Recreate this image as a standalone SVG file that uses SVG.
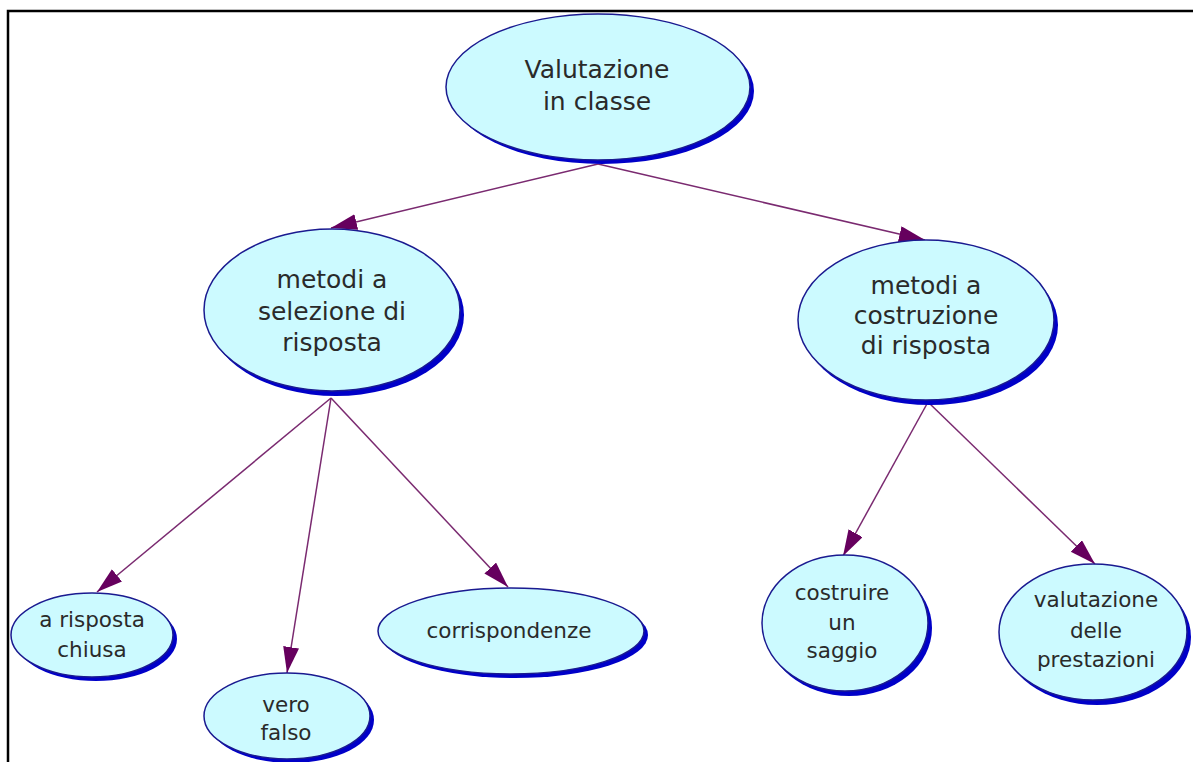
<svg xmlns="http://www.w3.org/2000/svg" width="1193" height="762" viewBox="0 0 1193 762">
<defs>
<style>
.sh{fill:#0000c8;}
.el{fill:#ccfaff;stroke:#1a1a90;stroke-width:1.5;}
.t{font-family:"DejaVu Sans",sans-serif;fill:#2a2a2a;text-anchor:middle;}
.big{font-size:25px;}
.sm{font-size:21.5px;}
.c{stroke:#7a2a70;stroke-width:1.5;fill:none;marker-end:url(#ah);}
</style>
<marker id="ah" markerUnits="userSpaceOnUse" markerWidth="28" markerHeight="18" refX="26" refY="8" orient="auto">
<path d="M0,0 L26,8 L0,16 Z" fill="#66005e"/>
</marker>
</defs>
<rect width="1193" height="762" fill="#fff"/>
<path d="M8,762 V11 H1193" fill="none" stroke="#000" stroke-width="2.5"/>
<g id="connectors">
<line class="c" x1="598" y1="164" x2="331" y2="228"/>
<line class="c" x1="598" y1="164" x2="925" y2="240"/>
<line class="c" x1="331" y1="398" x2="97" y2="592"/>
<line class="c" x1="331" y1="398" x2="287" y2="673"/>
<line class="c" x1="331" y1="398" x2="508" y2="587"/>
<line class="c" x1="928" y1="402" x2="843" y2="556"/>
<line class="c" x1="928" y1="402" x2="1095" y2="564"/>
</g>
<g id="n1">
<ellipse class="sh" cx="602" cy="91" rx="152" ry="73"/>
<ellipse class="el" cx="598" cy="87" rx="152" ry="73"/>
<text class="t big" x="597" y="78">Valutazione</text>
<text class="t big" x="597" y="110">in classe</text>
</g>
<g id="n2">
<ellipse class="sh" cx="336" cy="315" rx="128" ry="81"/>
<ellipse class="el" cx="332" cy="310" rx="128" ry="81"/>
<text class="t big" x="332" y="288">metodi a</text>
<text class="t big" x="332" y="320">selezione di</text>
<text class="t big" x="332" y="351">risposta</text>
</g>
<g id="n3">
<ellipse class="sh" cx="930" cy="325" rx="128" ry="80"/>
<ellipse class="el" cx="926" cy="320" rx="128" ry="80"/>
<text class="t big" x="926" y="294">metodi a</text>
<text class="t big" x="926" y="324">costruzione</text>
<text class="t big" x="926" y="354">di risposta</text>
</g>
<g id="n4">
<ellipse class="sh" cx="96" cy="639" rx="81" ry="42"/>
<ellipse class="el" cx="92" cy="635" rx="81" ry="42"/>
<text class="t sm" x="92" y="627">a risposta</text>
<text class="t sm" x="92" y="657">chiusa</text>
</g>
<g id="n5">
<ellipse class="sh" cx="291" cy="720" rx="83" ry="43"/>
<ellipse class="el" cx="287" cy="716" rx="83" ry="43"/>
<text class="t sm" x="286" y="712">vero</text>
<text class="t sm" x="286" y="740">falso</text>
</g>
<g id="n6">
<ellipse class="sh" cx="515" cy="635" rx="133" ry="43"/>
<ellipse class="el" cx="511" cy="631" rx="133" ry="43"/>
<text class="t sm" x="509" y="638">corrispondenze</text>
</g>
<g id="n7">
<ellipse class="sh" cx="849" cy="628" rx="83" ry="68"/>
<ellipse class="el" cx="845" cy="623" rx="83" ry="68"/>
<text class="t sm" x="842" y="600">costruire</text>
<text class="t sm" x="842" y="630">un</text>
<text class="t sm" x="842" y="658">saggio</text>
</g>
<g id="n8">
<ellipse class="sh" cx="1097" cy="637" rx="94" ry="68"/>
<ellipse class="el" cx="1093" cy="632" rx="94" ry="68"/>
<text class="t sm" x="1096" y="607">valutazione</text>
<text class="t sm" x="1096" y="638">delle</text>
<text class="t sm" x="1096" y="667">prestazioni</text>
</g>
</svg>
